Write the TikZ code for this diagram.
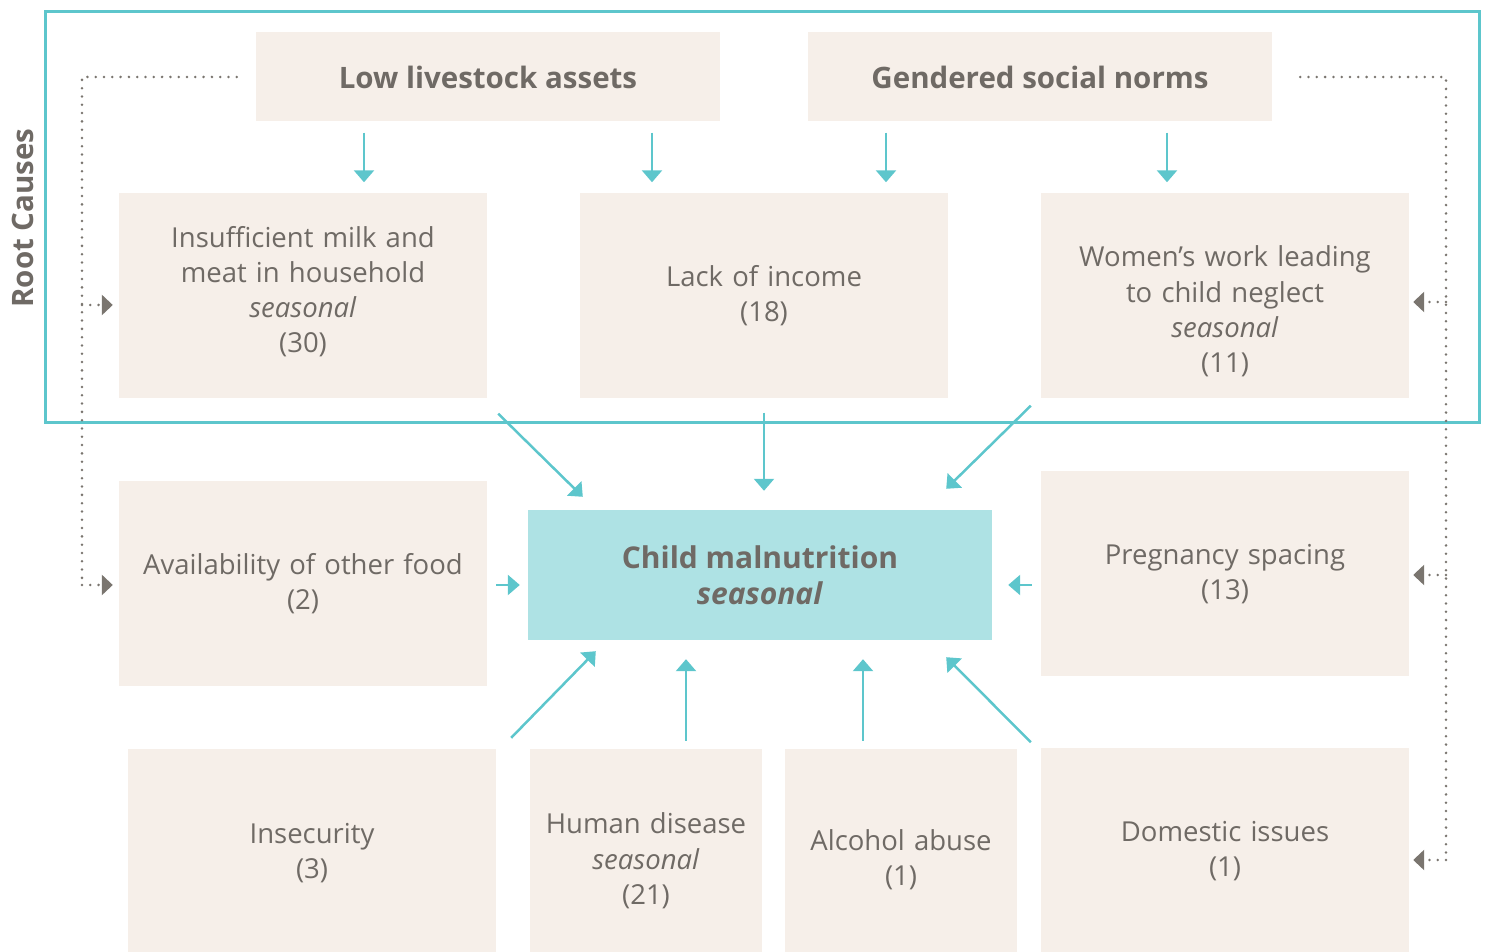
\documentclass[tikz,border=0pt]{standalone}
\usepackage{fontspec}
\setmainfont{Open Sans}
\usetikzlibrary{arrows.meta,positioning}

\definecolor{rimteal}{HTML}{5DC6CC}
\definecolor{coretint}{HTML}{AEE2E4}
\definecolor{sand}{HTML}{F6EFE9}
\definecolor{ink}{HTML}{6F6A65}
\definecolor{dotgrey}{HTML}{7A756F}

\tikzset{
  cause/.style={fill=sand, inner sep=0pt, minimum width=368pt, minimum height=205pt,
    text width=360pt, align=center, text=ink, font=\fontsize{27.5}{35.3}\selectfont},
  narrow/.style={cause, minimum width=232pt, text width=230pt},
  root/.style={fill=sand, inner sep=0pt, minimum width=464pt, minimum height=89pt,
    text=ink, font=\fontsize{29.5}{35}\selectfont\bfseries},
  core/.style={fill=coretint, inner sep=0pt, minimum width=464pt, minimum height=130pt,
    align=center, text=ink, font=\fontsize{30}{36}\selectfont\bfseries},
  flow/.style={draw=rimteal, line width=2.5pt, -{Triangle[width=20pt,length=12pt]}},
  link/.style={draw=dotgrey, line width=2.8pt, line cap=round, dash pattern=on 0pt off 8.3pt},
  feed/.style={link, -{Triangle[width=20pt,length=11pt,fill=dotgrey]}},
}

\begin{document}
\begin{tikzpicture}[x=1pt,y=1pt]
\useasboundingbox (0,0) rectangle (1486,952);

% root causes frame
\draw[rimteal, line width=3pt] (45,529) rectangle (1479,940);
\node[rotate=90, text=ink, font=\fontsize{29.5}{30}\selectfont\bfseries] (rc) at (23,734) {Root Causes};

% top row
\node[root] (assets) at (488,875) {Low livestock assets};
\node[root] (norms) at (1040,875) {Gendered social norms};

% struts nudge the text inside the box a little
\node[cause] (milk) at (303,656) {Insufficient milk and\\meat in household\\\textit{seasonal}\\(30)\rule[-13pt]{0pt}{13pt}};
\node[cause] (income) at (764,656) {Lack of income\\(18)};
\node[cause] (women) at (1225,656) {\rule{0pt}{52pt}Women’s work leading\\to child neglect\\\textit{seasonal}\\(11)};

% middle row
\node[cause] (food) at (303,368) {Availability of other food\\(2)};
\node[core] (child) at (760,377) {Child malnutrition\\\textit{seasonal}};
\node[cause] (spacing) at (1225,378) {Pregnancy spacing\\(13)};

% bottom row, running off the page
\node[cause, minimum height=208pt] (insec) at (312,99) {Insecurity\\(3)};
\node[narrow, minimum height=224pt] (disease) at (646,91) {Human disease\\\textit{seasonal}\\(21)};
\node[narrow, minimum height=222pt] (alcohol) at (901,92) {Alcohol abuse\\(1)};
\node[cause] (domestic) at (1225,101) {Domestic issues\\(1)};

% root causes feeding the second row
\coordinate (a1) at ([xshift=-124pt]assets.south);
\coordinate (a2) at ([xshift=164pt]assets.south);
\coordinate (n1) at ([xshift=-154pt]norms.south);
\coordinate (n2) at ([xshift=127pt]norms.south);
\draw[flow, shorten <=11pt, shorten >=11pt] (a1) -- (a1 |- milk.north);
\draw[flow, shorten <=11pt, shorten >=11pt] (a2) -- (a2 |- income.north);
\draw[flow, shorten <=11pt, shorten >=11pt] (n1) -- (n1 |- income.north);
\draw[flow, shorten <=11pt, shorten >=11pt] (n2) -- (n2 |- women.north);

% everything points at child malnutrition
\coordinate (cw) at ([yshift=-10pt]child.west);
\coordinate (ce) at ([yshift=-10pt]child.east);
\coordinate (d1) at ([xshift=40pt]disease.north);
\coordinate (d2) at ([xshift=-38pt]alcohol.north);
\draw[flow] ([shift={(11pt,-15pt)}]milk.south east) -- ([shift={(55pt,13pt)}]child.north west);
\draw[flow, shorten <=14pt, shorten >=19pt] (income.south) -- (income.south |- child.north);
\draw[flow] ([shift={(-10pt,-7pt)}]women.south west) -- ([shift={(-46pt,21pt)}]child.north east);
\draw[flow, shorten <=9pt, shorten >=8pt] (cw -| food.east) -- (cw);
\draw[flow, shorten <=9pt, shorten >=16pt] (ce -| spacing.west) -- (ce);
\draw[flow] ([shift={(15pt,11pt)}]insec.north east) -- ([shift={(68pt,-11pt)}]child.south west);
\draw[flow, shorten <=8pt, shorten >=19pt] (d1) -- (d1 |- child.south);
\draw[flow, shorten <=8pt, shorten >=19pt] (d2) -- (d2 |- child.south);
\draw[flow] ([shift={(-10pt,6pt)}]domestic.north west) -- ([shift={(-46pt,-17pt)}]child.south east);

% dotted rails
\coordinate (railL) at (82,875);
\coordinate (railR) at (1446,875);
\coordinate (mL) at ([shift={(-6pt,-9pt)}]milk.west);
\coordinate (fL) at ([shift={(-6pt,-1pt)}]food.west);
\coordinate (wR) at ([shift={(4pt,-6pt)}]women.east);
\coordinate (sR) at ([shift={(4pt,-1pt)}]spacing.east);
\coordinate (dR) at ([shift={(4pt,-9pt)}]domestic.east);
\draw[link] ([xshift=-19pt]assets.west) -- (railL) -- (railL |- fL);
\draw[feed] (railL |- mL) -- (mL);
\draw[feed] (railL |- fL) -- (fL);
\draw[link] ([xshift=28pt]norms.east) -- (railR) -- (railR |- dR);
\draw[feed] (railR |- wR) -- (wR);
\draw[feed] (railR |- sR) -- (sR);
\draw[feed] (railR |- dR) -- (dR);
\end{tikzpicture}
\end{document}
